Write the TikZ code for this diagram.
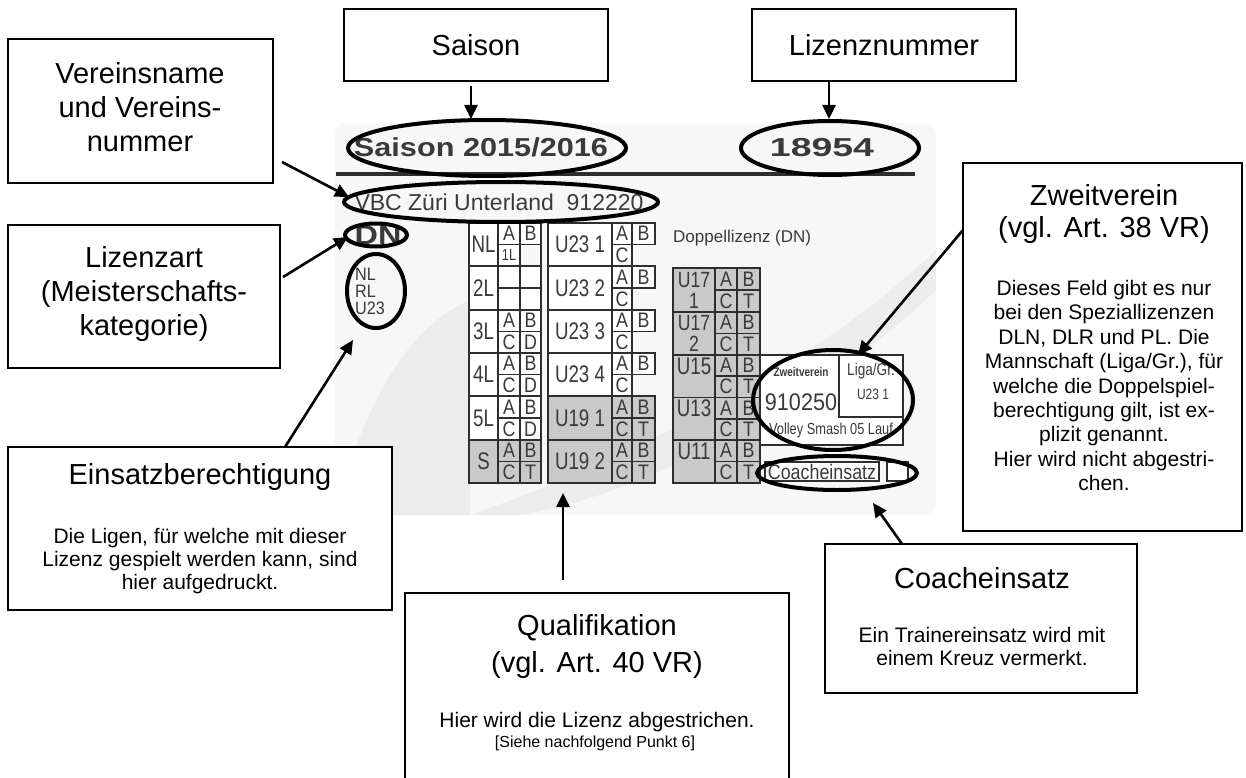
\documentclass[tikz,border=0pt]{standalone}
\usepackage{fontspec}
\setmainfont{Liberation Sans}
\usetikzlibrary{arrows.meta,shapes.geometric}
\definecolor{ink}{HTML}{3A3A3A}
\definecolor{cline}{HTML}{2E2E2E}
\definecolor{cellgray}{HTML}{C9C9C9}
\definecolor{cardbg}{HTML}{F7F7F7}
\definecolor{swoosh}{HTML}{ECECEC}
\newcommand{\fs}[2]{\fontsize{#1}{#2}\selectfont}
\newcommand{\cnd}[1]{\scalebox{0.8}[1]{#1}}
\newcommand{\lb}[1]{{\fs{24}{22}\scalebox{0.78}[1]{#1}}}
\newcommand{\sm}[1]{{\fs{21}{19}\scalebox{0.85}[1]{#1}}}
\newcounter{cellno}
\newcommand{\cl}[6]{\stepcounter{cellno}\node[cell,fill=#6,minimum width={#3-#1},minimum height={#4-#2}] (cell\thecellno) at (#1,#2) {#5};}
\newcommand{\bx}[5]{\node[box,minimum width={#4-#2},minimum height={#5-#3}] (#1) at (#2,#3) {};}
\begin{document}
\begin{tikzpicture}[x=1pt,y=-1pt,
  box/.style={draw=black,line width=1.3pt,fill=white,anchor=north west,inner sep=0pt,outer sep=0pt},
  cell/.style={draw=cline,line width=1.2pt,anchor=north west,inner sep=0pt,outer sep=0pt,text=ink,align=center,font=\fs{22}{21}},
  ttl/.style={font=\fs{29}{34},align=center,inner sep=0pt},
  bdy/.style={font=\fs{21}{24},align=center,inner sep=0pt},
  ring/.style={draw=black,line width=4pt,ellipse,inner sep=0pt},
  arr/.style={line width=2.6pt,-{Triangle[length=14pt,width=13pt]}},
  cardtxt/.style={text=ink,inner sep=0pt}]
\useasboundingbox (0,0) rectangle (1246,778);
\clip (0,0) rectangle (1246,778);
\fill[white] (0,0) rectangle (1246,778);

% card
\fill[cardbg,rounded corners=12pt] (334,123) rectangle (936,515);
\begin{scope}
\clip[rounded corners=12pt] (334,123) rectangle (936,515);
\fill[swoosh] (334,515) .. controls (360,420) and (400,330) .. (470,300) -- (470,515) -- cycle;
\fill[swoosh] (470,515) .. controls (600,470) and (800,380) .. (936,250) -- (936,290) .. controls (800,420) and (620,500) .. (520,515) -- cycle;
\end{scope}
\draw[cline,line width=3.5pt] (336,174) -- (915,174);
\node[cardtxt,font=\bfseries\fs{26}{26}] (tSaisonCard) at (481,147) {\scalebox{1.18}[1]{Saison 2015/2016}};
\node[cardtxt,font=\bfseries\fs{26}{26}] (tLizCard) at (822,148) {\scalebox{1.44}[1]{18954}};
\node[cardtxt,font=\fs{23}{24}] (tVbc) at (499,202) {VBC Züri Unterland\ \ 912220};
\node[cardtxt,font=\bfseries\fs{27}{26}] (tDn) at (378,235) {\scalebox{1.2}[1]{DN}};
\node[cardtxt,font=\fs{18}{17},align=left,anchor=west] (tLig) at (355,291) {\scalebox{0.9}[1]{NL}\\\scalebox{0.9}[1]{RL}\\\scalebox{0.9}[1]{U23}};
\node[cardtxt,font=\fs{17}{17},anchor=west] (tDop) at (673,238) {Doppellizenz (DN)};

% column frames
\draw[cline,line width=1.2pt] (469,223) rectangle (541,483);
\draw[cline,line width=1.2pt] (548,223) rectangle (632,483);

% column 1
\cl{469}{223}{498}{266}{\lb{NL}}{white}
\cl{498}{223}{520}{244.5}{\sm{A}}{white}
\cl{520}{223}{541}{244.5}{\sm{B}}{white}
\cl{498}{244.5}{520}{266}{{\fs{16}{16}\cnd{1L}}}{white}
\cl{469}{266}{498}{310}{\lb{2L}}{white}
\cl{498}{266}{520}{288}{}{white}
\cl{520}{266}{541}{288}{}{white}
\cl{498}{288}{520}{310}{}{white}
\cl{520}{288}{541}{310}{}{white}
\cl{469}{310}{498}{353}{\lb{3L}}{white}
\cl{498}{310}{520}{331.5}{\sm{A}}{white}
\cl{520}{310}{541}{331.5}{\sm{B}}{white}
\cl{498}{331.5}{520}{353}{\sm{C}}{white}
\cl{520}{331.5}{541}{353}{\sm{D}}{white}
\cl{469}{353}{498}{396}{\lb{4L}}{white}
\cl{498}{353}{520}{374.5}{\sm{A}}{white}
\cl{520}{353}{541}{374.5}{\sm{B}}{white}
\cl{498}{374.5}{520}{396}{\sm{C}}{white}
\cl{520}{374.5}{541}{396}{\sm{D}}{white}
\cl{469}{396}{498}{440}{\lb{5L}}{white}
\cl{498}{396}{520}{418}{\sm{A}}{white}
\cl{520}{396}{541}{418}{\sm{B}}{white}
\cl{498}{418}{520}{440}{\sm{C}}{white}
\cl{520}{418}{541}{440}{\sm{D}}{white}
\cl{469}{440}{498}{483}{\lb{S}}{cellgray}
\cl{498}{440}{520}{461.5}{\sm{A}}{cellgray}
\cl{520}{440}{541}{461.5}{\sm{B}}{cellgray}
\cl{498}{461.5}{520}{483}{\sm{C}}{cellgray}
\cl{520}{461.5}{541}{483}{\sm{T}}{cellgray}

% column 2
\cl{548}{223}{612}{266}{\lb{U23 1}}{white}
\cl{612}{223}{632}{244.5}{\sm{A}}{white}
\cl{632}{223}{655}{244.5}{\sm{B}}{white}
\cl{612}{244.5}{632}{266}{\sm{C}}{white}
\cl{548}{266}{612}{310}{\lb{U23 2}}{white}
\cl{612}{266}{632}{288}{\sm{A}}{white}
\cl{632}{266}{655}{288}{\sm{B}}{white}
\cl{612}{288}{632}{310}{\sm{C}}{white}
\cl{548}{310}{612}{353}{\lb{U23 3}}{white}
\cl{612}{310}{632}{331.5}{\sm{A}}{white}
\cl{632}{310}{655}{331.5}{\sm{B}}{white}
\cl{612}{331.5}{632}{353}{\sm{C}}{white}
\cl{548}{353}{612}{396}{\lb{U23 4}}{white}
\cl{612}{353}{632}{374.5}{\sm{A}}{white}
\cl{632}{353}{655}{374.5}{\sm{B}}{white}
\cl{612}{374.5}{632}{396}{\sm{C}}{white}
\cl{548}{396}{612}{440}{\lb{U19 1}}{cellgray}
\cl{612}{396}{632}{418}{\sm{A}}{cellgray}
\cl{632}{396}{655}{418}{\sm{B}}{cellgray}
\cl{612}{418}{632}{440}{\sm{C}}{cellgray}
\cl{632}{418}{655}{440}{\sm{T}}{cellgray}
\cl{548}{440}{612}{483}{\lb{U19 2}}{cellgray}
\cl{612}{440}{632}{461.5}{\sm{A}}{cellgray}
\cl{632}{440}{655}{461.5}{\sm{B}}{cellgray}
\cl{612}{461.5}{632}{483}{\sm{C}}{cellgray}
\cl{632}{461.5}{655}{483}{\sm{T}}{cellgray}

% column 3
\cl{673}{268}{715}{312}{\cnd{U17}\\\cnd{1}}{cellgray}
\cl{715}{268}{737}{290}{\sm{A}}{cellgray}
\cl{737}{268}{760}{290}{\sm{B}}{cellgray}
\cl{715}{290}{737}{312}{\sm{C}}{cellgray}
\cl{737}{290}{760}{312}{\sm{T}}{cellgray}
\cl{673}{312}{715}{355}{\cnd{U17}\\\cnd{2}}{cellgray}
\cl{715}{312}{737}{333.5}{\sm{A}}{cellgray}
\cl{737}{312}{760}{333.5}{\sm{B}}{cellgray}
\cl{715}{333.5}{737}{355}{\sm{C}}{cellgray}
\cl{737}{333.5}{760}{355}{\sm{T}}{cellgray}
\cl{673}{355}{715}{397.5}{\lb{U15}\\~}{cellgray}
\cl{715}{355}{737}{376}{\sm{A}}{cellgray}
\cl{737}{355}{760}{376}{\sm{B}}{cellgray}
\cl{715}{376}{737}{397.5}{\sm{C}}{cellgray}
\cl{737}{376}{760}{397.5}{\sm{T}}{cellgray}
\cl{673}{397.5}{715}{440}{\lb{U13}\\~}{cellgray}
\cl{715}{397.5}{737}{419}{\sm{A}}{cellgray}
\cl{737}{397.5}{760}{419}{\sm{B}}{cellgray}
\cl{715}{419}{737}{440}{\sm{C}}{cellgray}
\cl{737}{419}{760}{440}{\sm{T}}{cellgray}
\cl{673}{440}{715}{483}{\lb{U11}\\~}{cellgray}
\cl{715}{440}{737}{461.5}{\sm{A}}{cellgray}
\cl{737}{440}{760}{461.5}{\sm{B}}{cellgray}
\cl{715}{461.5}{737}{483}{\sm{C}}{cellgray}
\cl{737}{461.5}{760}{483}{\sm{T}}{cellgray}

% Zweitverein block
\cl{760}{355}{903}{445}{}{white}
\cl{839}{355}{903}{417}{}{white}
\node[cardtxt,font=\bfseries\fs{12.5}{12}] (tZv) at (801,372) {\cnd{Zweitverein}};
\node[cardtxt,font=\fs{17}{16}] (tLg) at (871,371) {\cnd{Liga/Gr.}};
\node[cardtxt,font=\fs{15}{14}] (tU231) at (873,394) {\cnd{U23 1}};
\node[cardtxt,font=\fs{24}{23}] (tNum) at (801,402) {\scalebox{0.9}[1]{910250}};
\node[cardtxt,font=\fs{16}{15}] (tVs) at (831,430) {\cnd{Volley Smash 05 Lauf}};
\cl{765}{462}{879}{481}{{\fs{21}{19}\scalebox{0.85}[1]{Coacheinsatz}}}{white}
\cl{887}{462}{908}{481}{}{white}

% ellipses
\node[ring,minimum width=278pt,minimum height=56pt] (eSaison) at (487,148) {};
\node[ring,minimum width=178pt,minimum height=54pt] (eLiz) at (830,148) {};
\node[ring,minimum width=314pt,minimum height=40pt] (eVbc) at (501,202) {};
\node[ring,minimum width=62pt,minimum height=23pt] (eDn) at (376,235) {};
\node[ring,minimum width=58pt,minimum height=74pt] (eLig) at (376,291) {};
\node[ring,minimum width=160pt,minimum height=100pt] (eZweit) at (833,400) {};
\node[ring,minimum width=160pt,minimum height=34pt] (eCoach) at (837,473) {};

% label boxes
\bx{bSaison}{344}{9}{608}{81}
\node[ttl] (tSaison) at (476,45) {Saison};
\bx{bLiz}{752}{9}{1016}{81}
\node[ttl] (tLiz) at (884,45) {Lizenznummer};
\bx{bVer}{8}{39}{273}{183}
\node[ttl] (tVer) at (140,107) {Vereinsname\\und Vereins-\\nummer};
\bx{bArt}{8}{225}{280}{368}
\node[ttl] (tArt) at (144,294) {Lizenzart\\(Meisterschafts-\\kategorie)};
\bx{bEin}{8}{447}{392}{610}
\node[ttl] (tEin) at (200,477) {Einsatzberechtigung};
\node[bdy,font=\fs{21}{23}] (tEinB) at (200,561) {Die Ligen, für welche mit dieser\\Lizenz gespielt werden kann, sind\\hier aufgedruckt.};
\bx{bQua}{405}{593}{789}{800}
\node[ttl,font=\fs{29}{37}] (tQua) at (597,646) {Qualifikation\\(vgl. Art. 40 VR)};
\node[bdy] (tQuaB) at (597,722) {Hier wird die Lizenz abgestrichen.};
\node[font=\fs{16}{16},inner sep=0pt] (tQuaS) at (595,743) {[Siehe nachfolgend Punkt 6]};
\bx{bCoach}{825}{544}{1137}{693}
\node[ttl] (tCoach) at (982,578) {Coacheinsatz};
\node[bdy,font=\fs{21}{23}] (tCoachB) at (982,646.5) {Ein Trainereinsatz wird mit\\einem Kreuz vermerkt.};
\bx{bZweit}{963}{163}{1242}{531}
\node[ttl,font=\fs{29}{32}] (tZweit) at (1104,214) {Zweitverein\\(vgl. Art. 38 VR)};
\node[bdy,font=\fs{21}{24.4}] (tZweitB) at (1104,385.5) {Dieses Feld gibt es nur\\bei den Speziallizenzen\\DLN, DLR und PL. Die\\Mannschaft (Liga/Gr.), für\\welche die Doppelspiel-\\berechtigung gilt, ist ex-\\plizit genannt.\\Hier wird nicht abgestri-\\chen.};

% arrow end points
\coordinate (aSaisonS) at (471,86);
\coordinate (aSaisonT) at (471,119);
\coordinate (aLizS) at (829,81);
\coordinate (aLizT) at (829,119);
\coordinate (aVerS) at (282,162);
\coordinate (aVerT) at (349,197);
\coordinate (aArtS) at (283,277);
\coordinate (aArtT) at (348,237);
\coordinate (aEinS) at (285,447);
\coordinate (aEinT) at (353,340);
\coordinate (aQuaS) at (563,580);
\coordinate (aQuaT) at (563,493);
\coordinate (aCoachS) at (902,544);
\coordinate (aCoachT) at (873,503);
\coordinate (aZweitS) at (963,230);
\coordinate (aZweitT) at (858,355);

\draw[arr] (aSaisonS) -- (aSaisonT);
\draw[arr] (aLizS) -- (aLizT);
\draw[arr] (aVerS) -- (aVerT);
\draw[arr] (aArtS) -- (aArtT);
\draw[arr] (aEinS) -- (aEinT);
\draw[arr] (aQuaS) -- (aQuaT);
\draw[arr] (aCoachS) -- (aCoachT);
\draw[arr] (aZweitS) -- (aZweitT);
\end{tikzpicture}
\end{document}
